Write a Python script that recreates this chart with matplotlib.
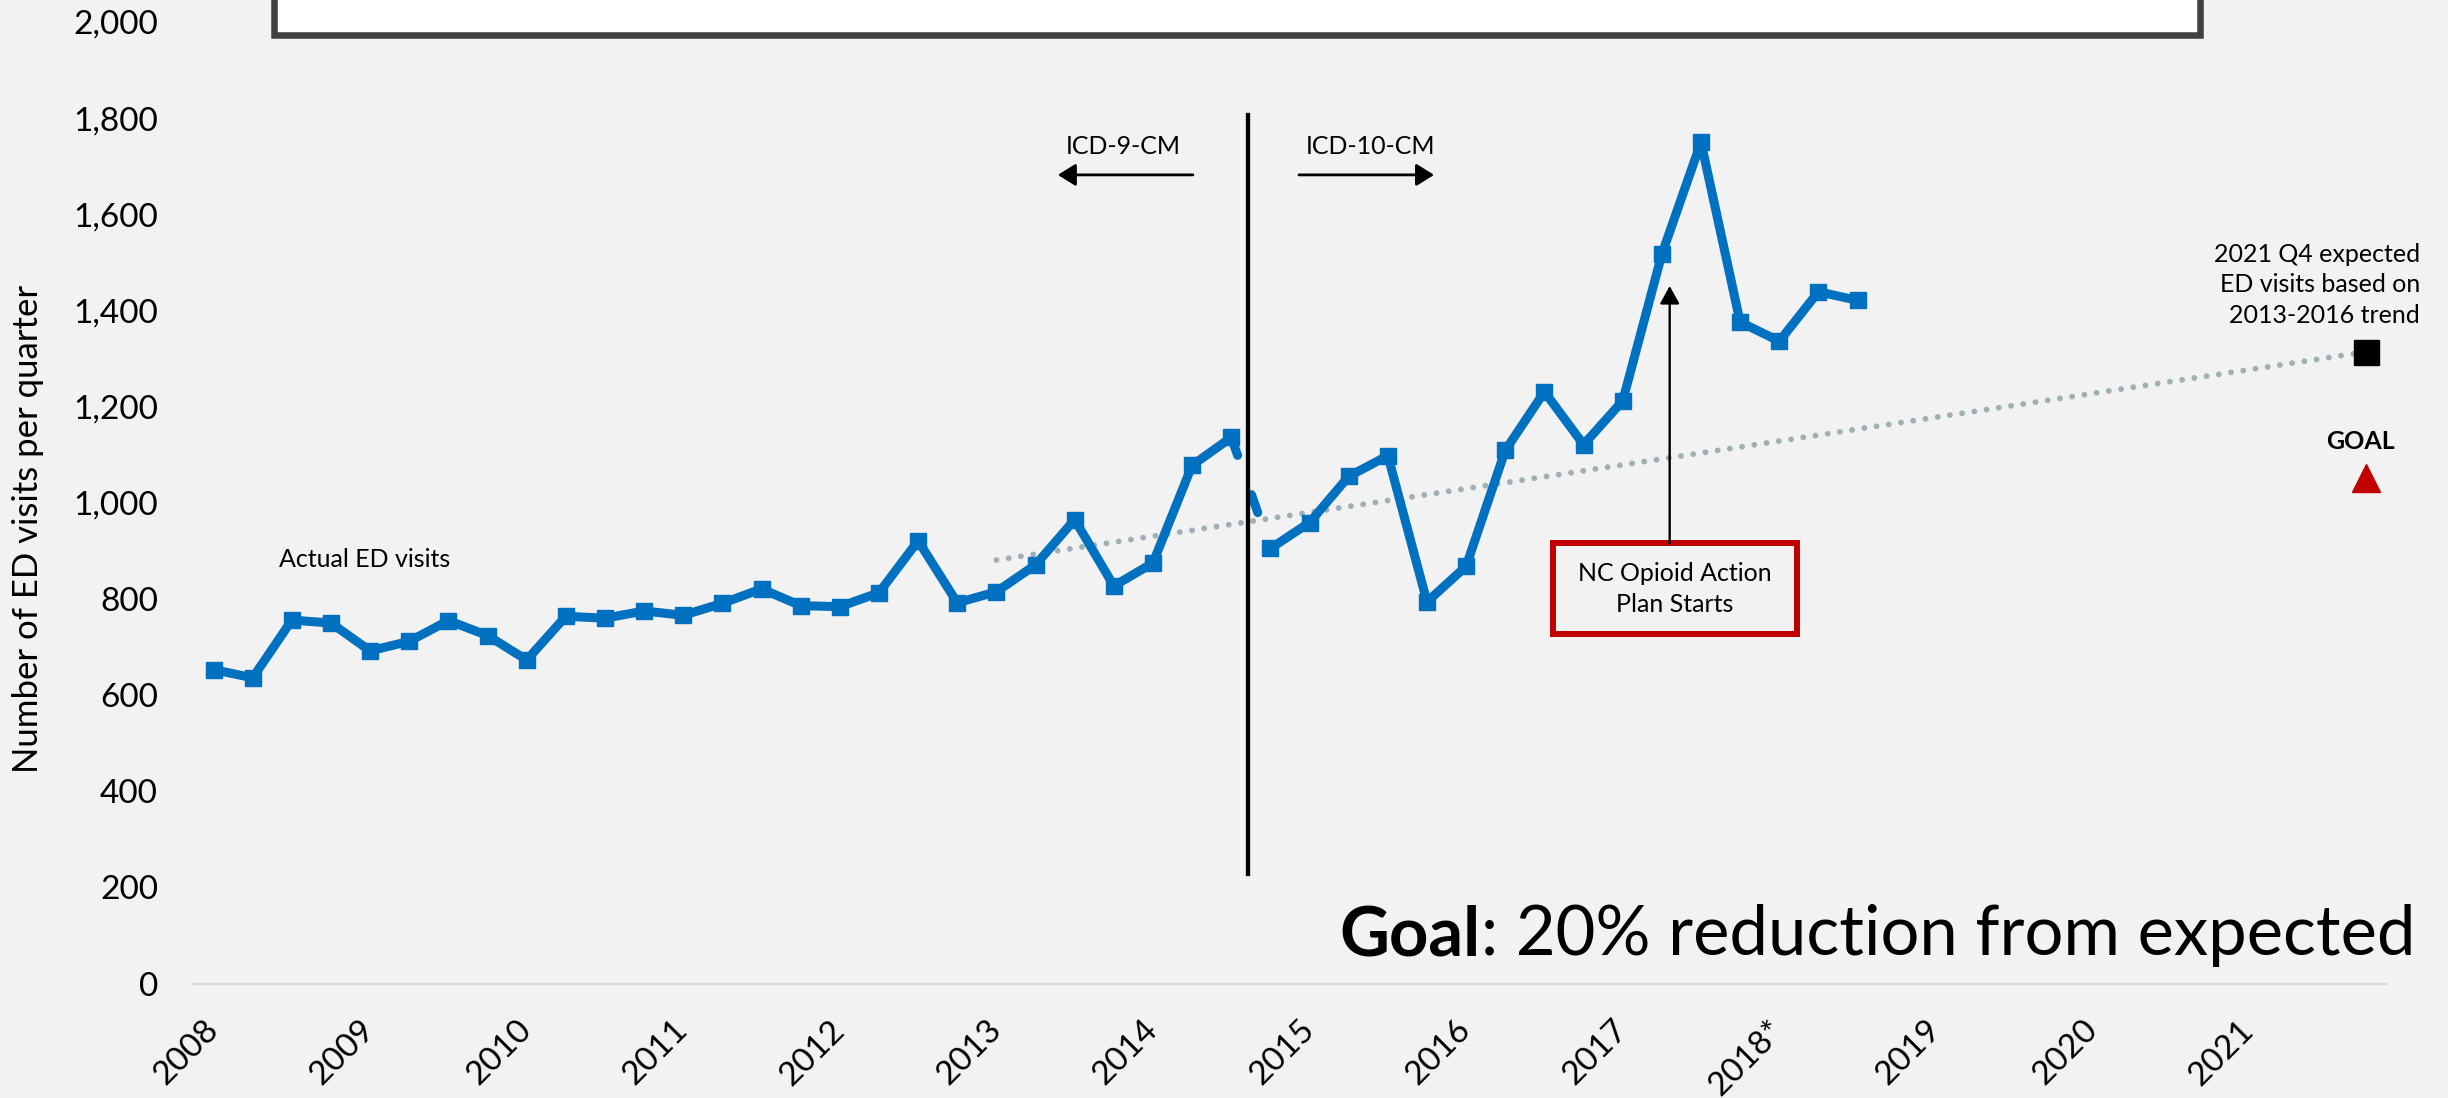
import matplotlib
matplotlib.use('Agg')
import matplotlib.pyplot as plt
from matplotlib.patches import Rectangle

plt.rcParams['font.family'] = ['Lato', 'DejaVu Sans']

# ---------------- data ----------------
quarter_index = list(range(43))  # 2008 Q1 .. 2018 Q3
visits = [653, 636, 756, 750, 692, 712, 755, 724, 673, 764, 760, 775, 766, 791,
          821, 786, 784, 813, 921, 792, 815, 871, 965, 827, 875, 1078, 1136,
          905, 959, 1055, 1098, 794, 868, 1109, 1231, 1121, 1212, 1517, 1750,
          1376, 1336, 1439, 1421]
year_labels = ['2008', '2009', '2010', '2011', '2012', '2013', '2014', '2015',
               '2016', '2017', '2018*', '2019', '2020', '2021']
year_tick_index = [0, 4, 8, 12, 16, 20, 24, 28, 32, 36, 40, 44, 48, 52]
n_categories = 56            # 2008 Q1 .. 2021 Q4
expected_index = 55          # 2021 Q4
expected_value = 1314
goal_value = 1051
trend_index = [20, 55]       # 2013 Q1 .. 2021 Q4
trend_value = [881, 1314]
icd_break_index = 26.43      # ICD-9 -> ICD-10 transition
y_ticks = [0, 200, 400, 600, 800, 1000, 1200, 1400, 1600, 1800, 2000]

BG = '#F2F2F2'
BLUE = '#0070C0'
RED = '#C00000'
TREND = '#9FB0B5'

W, H = 2448, 1098
fig = plt.figure(figsize=(W / 100, H / 100), dpi=100, facecolor=BG)
ax = fig.add_axes([194 / W, 1 - 983.6 / H, (2386 - 194) / W, (983.6 - 22) / H])
ax.set_facecolor(BG)
ax.set_xlim(-0.5, n_categories - 0.5)
ax.set_ylim(0, 2000)

# top white box (cut off by figure edge)
fig.patches.append(Rectangle((273.5 / W, 1 - 35 / H), (2200 - 273.5) / W, 0.2,
                             transform=fig.transFigure, facecolor='white',
                             edgecolor='#404040', linewidth=4.7, zorder=0,
                             clip_on=False))

# spines / axis
for s in ['top', 'right', 'left']:
    ax.spines[s].set_visible(False)
ax.spines['bottom'].set_color('#D9D9D9')
ax.spines['bottom'].set_linewidth(1.6)
ax.set_yticks(y_ticks)
ax.set_yticklabels([f'{v:,}' for v in y_ticks], fontsize=24)
ax.tick_params(axis='y', length=0, pad=26)
ax.set_xticks(year_tick_index)
ax.set_xticklabels(year_labels, fontsize=24, rotation=45, ha='right',
                   va='center', rotation_mode='anchor')
ax.tick_params(axis='x', length=0, pad=30)

fig.text(28 / W, 1 - 529 / H, 'Number of ED visits per quarter', rotation=90,
         ha='center', va='center', fontsize=25)

# trend line (dotted)
tlw = 4.2
ax.plot(trend_index, trend_value, color=TREND, lw=tlw,
        linestyle=(0, (0.01, 8.86 / tlw)), dash_capstyle='round', zorder=2)

# actual visits: solid before / after the coding transition, dashed across it
lw = 6.5
ax.plot(quarter_index[:27], visits[:27], color=BLUE, lw=lw,
        solid_joinstyle='round', solid_capstyle='round', zorder=3)
ax.plot(quarter_index[26:28], visits[26:28], color=BLUE, lw=lw,
        linestyle=(0, (13.7 / lw, 30 / lw)), dash_capstyle='round', zorder=3)
ax.plot(quarter_index[27:], visits[27:], color=BLUE, lw=lw,
        solid_joinstyle='round', solid_capstyle='round', zorder=3)
ax.plot(quarter_index, visits, linestyle='none', marker='s', markersize=11.5,
        color=BLUE, zorder=4)

# expected and goal markers
ax.plot([expected_index], [expected_value], marker='s', markersize=18,
        color='black', linestyle='none', zorder=5)
ax.plot([expected_index], [goal_value], marker='^', markersize=20,
        color=RED, linestyle='none', zorder=5)

# ICD transition line
ax.plot([icd_break_index, icd_break_index], [228, 1806], color='black', lw=3.1,
        zorder=6)

ax.text(23.23, 1742, 'ICD-9-CM', ha='center', va='center', fontsize=18)
ax.text(29.55, 1742, 'ICD-10-CM', ha='center', va='center', fontsize=18)
arrow_kw = dict(arrowstyle='-|>,head_length=0.4,head_width=0.25', color='black',
                lw=2.0, mutation_scale=27, shrinkA=0, shrinkB=0)
ax.annotate('', xy=(21.57, 1682), xytext=(25.02, 1682), arrowprops=arrow_kw)
ax.annotate('', xy=(31.18, 1682), xytext=(27.73, 1682), arrowprops=arrow_kw)

ax.text(1.67, 883, 'Actual ED visits', ha='left', va='center', fontsize=18)

ax.text(56.37, 1453, '2021 Q4 expected\nED visits based on\n2013-2016 trend',
        ha='right', va='center', multialignment='right', fontsize=18,
        linespacing=1.42, clip_on=False)
ax.text(54.84, 1128, 'GOAL', ha='center', va='center', fontsize=18,
        fontweight='bold')

# NC Opioid Action Plan box + arrow
ax.add_patch(Rectangle((34.23, 727), 6.21, 189, facecolor=BG, edgecolor=RED,
                       linewidth=4.3, zorder=1))
ax.text(37.34, 821, 'NC Opioid Action\nPlan Starts', ha='center', va='center',
        fontsize=18, linespacing=1.4, zorder=2)
ax.annotate('', xy=(37.2, 1451), xytext=(37.2, 916),
            arrowprops=dict(arrowstyle='-|>,head_length=0.4,head_width=0.22',
                            color='black', lw=1.7, mutation_scale=27,
                            shrinkA=0, shrinkB=0), zorder=2)

# Goal statement
t_reg = ax.text(56.25, 59, ': 20% reduction from expected', ha='right',
                va='baseline', fontsize=49.5, clip_on=False)
fig.canvas.draw()
bb = t_reg.get_window_extent(renderer=fig.canvas.get_renderer())
x_left_data = ax.transData.inverted().transform((bb.x0, 0))[0]
ax.text(x_left_data, 59, 'Goal', ha='right', va='baseline', fontsize=49.5,
        fontweight='bold', clip_on=False)

fig.savefig('out.png', dpi=100, facecolor=BG)
